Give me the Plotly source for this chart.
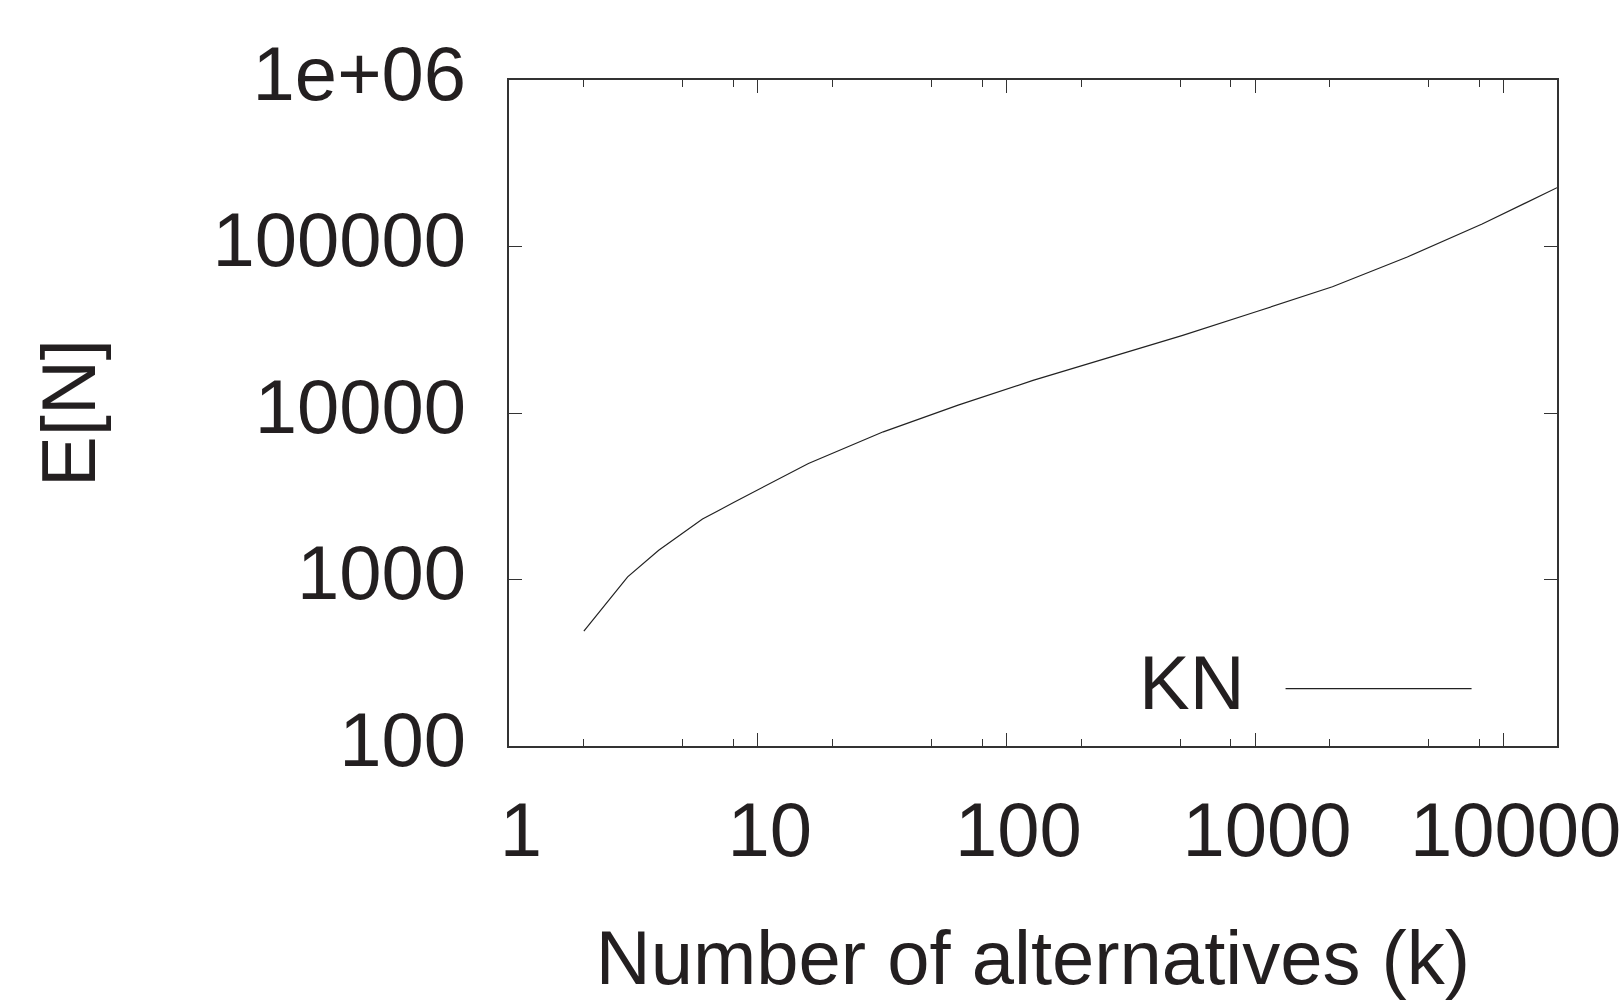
import math
import plotly.graph_objects as go

# Data
k_values = [2, 3, 4, 5, 6, 7, 8, 16, 32, 64, 128, 256, 512, 1024, 2048, 4096, 8192, 16384]
en_values = [489, 1038, 1500, 1914, 2306, 2608, 2904, 4977, 7710, 11140, 15700,
             21430, 29240, 40840, 57280, 86500, 136400, 225500]
series_name = "KN"

x_tick_vals = [1, 10, 100, 1000, 10000]
x_tick_text = ["1", "10", "100", "1000", "10000"]
x_minor_vals = [2, 5, 8, 20, 50, 80, 200, 500, 800, 2000, 5000, 8000]
y_tick_vals = [100, 1000, 10000, 100000, 1000000]
y_tick_text = ["100", "1000", "10000", "100000", "1e+06"]

FONT = "Liberation Sans, Arial, Helvetica, sans-serif"
FS = 76
AX = "#333333"

fig = go.Figure()
fig.add_trace(go.Scatter(
    x=k_values, y=en_values, mode="lines", name="\u00a0",
    line=dict(color="#222222", width=1.2), showlegend=True,
))

fig.update_layout(
    width=1623, height=1000,
    margin=dict(l=509, r=66, t=80, b=254, pad=0),
    paper_bgcolor="white", plot_bgcolor="white",
    font=dict(family=FONT, size=FS, color="#231f20"),
    showlegend=True,
    legend=dict(
        title=dict(text=series_name, side="left", font=dict(size=FS)),
        x=0.958, y=-0.031, xanchor="right", yanchor="bottom",
        bgcolor="rgba(0,0,0,0)", itemwidth=186, indentation=28,
        font=dict(size=110), valign="middle",
    ),
    xaxis=dict(
        type="log", range=[0, math.log10(16384)],
        tickmode="array", tickvals=x_tick_vals, ticktext=x_tick_text,
        ticks="inside", ticklen=13, tickwidth=1.2, tickcolor=AX,
        minor=dict(tickmode="array", tickvals=x_minor_vals, ticks="inside",
                   ticklen=7, tickwidth=1.2, tickcolor=AX, showgrid=False),
        showline=True, linecolor=AX, linewidth=1.5, mirror="ticks",
        showgrid=False, zeroline=False,
        ticklabelstandoff=17, ticklabelshift=12,
        title=dict(text="Number of alternatives (k)", standoff=75, font=dict(size=FS)),
        automargin=False,
    ),
    yaxis=dict(
        type="log", range=[2, 6],
        tickmode="array", tickvals=y_tick_vals, ticktext=y_tick_text,
        ticks="inside", ticklen=13, tickwidth=1.2, tickcolor=AX,
        showline=True, linecolor=AX, linewidth=1.5, mirror="ticks",
        showgrid=False, zeroline=False,
        ticklabelstandoff=26, ticklabelshift=-7,
        title=dict(text="E[N]", standoff=92, font=dict(size=FS)),
        automargin=False,
    ),
)

fig.write_html("out.html", config={"displayModeBar": False},
               post_script="document.body.style.margin='0';")
